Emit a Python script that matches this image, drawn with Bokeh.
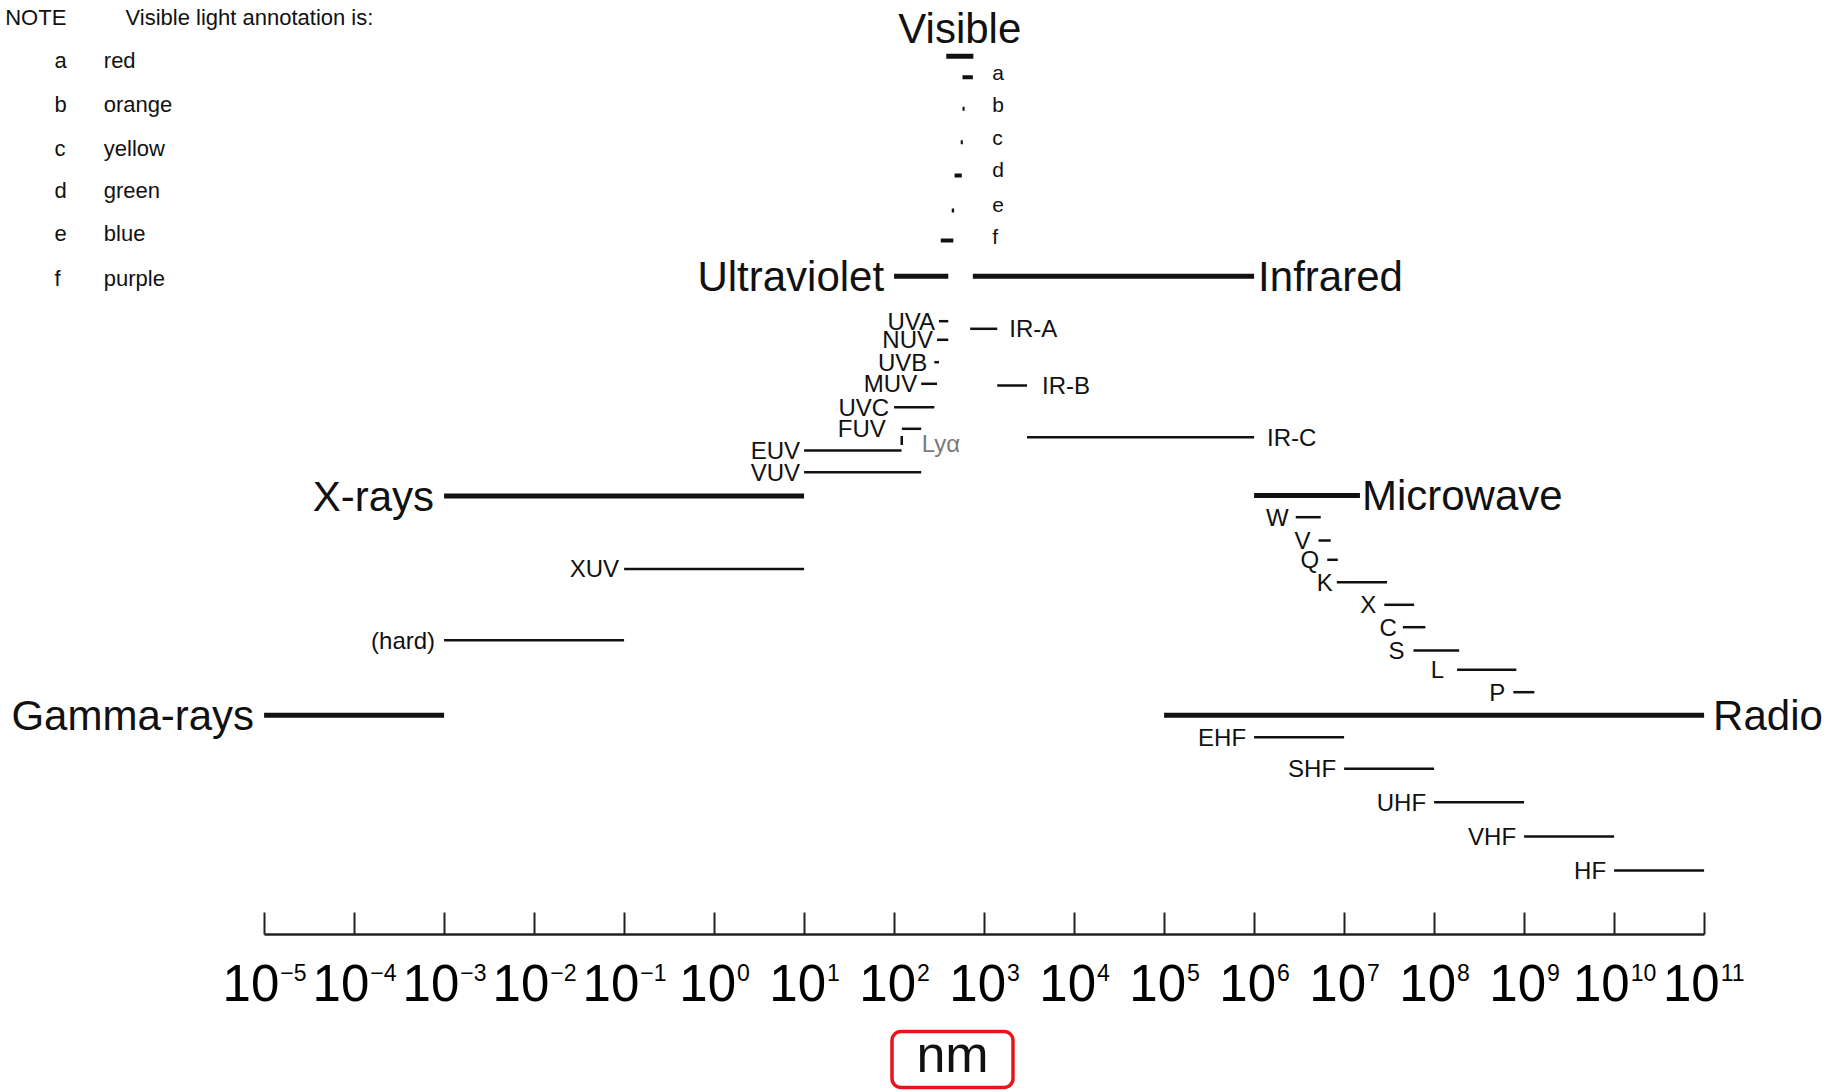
from bokeh.plotting import figure
from bokeh.layouts import column
from bokeh.models import Range1d, FixedTicker, ColumnDataSource, LinearScale, Rect
from bokeh.core.properties import value
from bokeh.embed import file_html
from bokeh.resources import INLINE

# ---------------- data (wavelengths in nm) ----------------
main_names = ["Gamma-rays", "X-rays", "Ultraviolet", "Visible", "Infrared", "Microwave", "Radio"]
main_lo = [1e-5, 1e-3, 100, 380, 750, 1e6, 1e5]
main_hi = [1e-3, 10, 400, 760, 1e6, 1.5e7, 1e11]

uv_names = ["UVA", "NUV", "UVB", "MUV", "UVC", "FUV", "EUV", "VUV"]
uv_lo = [315, 300, 280, 200, 100, 122, 10, 10]
uv_hi = [400, 400, 315, 300, 280, 200, 121, 200]

lya_name = "Lyα"
lya_nm = [121.6]

ir_names = ["IR-A", "IR-B", "IR-C"]
ir_lo = [700, 1400, 3000]
ir_hi = [1400, 3000, 1e6]

xray_names = ["XUV", "(hard)"]
xray_lo = [0.1, 0.001]
xray_hi = [10, 0.1]

mw_names = ["W", "V", "Q", "K", "X", "C", "S", "L", "P"]
mw_lo = [2.9e6, 5.2e6, 6.5e6, 8.3e6, 2.8e7, 4.5e7, 5.9e7, 1.8e8, 7.6e8]
mw_hi = [5.5e6, 7.1e6, 8.5e6, 3.0e7, 6.0e7, 8.0e7, 1.9e8, 8.2e8, 1.3e9]

radio_names = ["EHF", "SHF", "UHF", "VHF", "HF"]
radio_lo = [1e6, 1e7, 1e8, 1e9, 1e10]
radio_hi = [1e7, 1e8, 1e9, 1e10, 1e11]

vis_keys = ["a", "b", "c", "d", "e", "f"]
vis_colour_names = ["red", "orange", "yellow", "green", "blue", "purple"]
vis_lo = [575, 576, 550, 470, 437, 330]
vis_hi = [750, 607, 580, 565, 464, 455]

note_title = "NOTE"
note_text = "Visible light annotation is:"

tick_exp = list(range(-5, 12))
tick_vals = [float(f"1e{k}") for k in tick_exp]
tick_base = "10"
tick_exp_labels = ["−5", "−4", "−3", "−2", "−1", "0", "1", "2", "3",
                   "4", "5", "6", "7", "8", "9", "10", "11"]
unit_label = "nm"

# ---------------- layout (page pixel rows, label sides/gaps) ----------------
ROW = {
    "Visible": 55.7, "Ultraviolet": 275.7, "Infrared": 275.7, "X-rays": 495.6,
    "Microwave": 495.0, "Gamma-rays": 714.7, "Radio": 714.7,
    "UVA": 320.7, "NUV": 339.3, "UVB": 361.7, "MUV": 383.3, "UVC": 406.7,
    "FUV": 428.3, "EUV": 450.0, "VUV": 471.7,
    "IR-A": 328.3, "IR-B": 385.0, "IR-C": 436.7,
    "XUV": 568.4, "(hard)": 639.7,
    "W": 516.7, "V": 540.0, "Q": 559.3, "K": 581.7, "X": 604.3, "C": 626.7,
    "S": 650.0, "L": 669.3, "P": 691.7,
    "EHF": 736.7, "SHF": 768.3, "UHF": 801.7, "VHF": 836.0, "HF": 870.0,
}
VIS_TITLE_MID = 27.5
LYA_SPAN = (435.5, 444.5)
LYA_LABEL_Y = 443.0
MAIN_SIDE = {"Gamma-rays": "left", "X-rays": "left", "Ultraviolet": "left", "Visible": "top",
             "Infrared": "right", "Microwave": "right", "Radio": "right"}
MAIN_GAP = {"Gamma-rays": 10, "X-rays": 10, "Ultraviolet": 10, "Visible": 0,
            "Infrared": 4, "Microwave": 2, "Radio": 9}
SUB_GAP = {"UVA": 4, "NUV": 4, "UVB": 7, "MUV": 4, "UVC": 5, "FUV": 16, "EUV": 4, "VUV": 4,
           "IR-A": 12, "IR-B": 15, "IR-C": 13, "XUV": 5, "(hard)": 9,
           "W": 7, "V": 8, "Q": 8, "K": 4, "X": 8, "C": 6, "S": 9, "L": 13, "P": 8,
           "EHF": 8, "SHF": 8, "UHF": 8, "VHF": 8, "HF": 8}
BIG = "42px"
SUB = "24px"
VIS_ROW = [76.7, 108.3, 141.7, 175.0, 210.0, 240.0]
VIS_LABEL_ROW = [72.0, 103.5, 137.0, 168.5, 204.0, 236.0]
VIS_LABEL_X = 991.7
NOTE_X = (4.7, 125.0, 54.0, 103.3)
NOTE_TITLE_Y = 16.7
NOTE_ROWS = [59.5, 104, 148, 189.5, 233, 278]
NOTE_SIZE = "22px"

FONT = "Liberation Sans"
PAGE_W = 1830
AXIS_Y = 934              # page y of the axis line (frame bottom)
TOP_H = 940               # height of the main figure
BOT_H = 150               # height of the strip with tick labels and unit
DEC0, DEC_PX = 263.6, 90.0   # page x of 1e-5 and px per decade
TICK_BASE_SIZE, TICK_EXP_SIZE = 51, 23
TICK_BASE_MID, TICK_EXP_MID = 982.0, 971.5
UNIT_X, UNIT_MID = 952.0, 1053.0
UNIT_BOX = (952.0, 1059.0, 121.0, 56.0)   # centre x, centre y, width, height


def page_to_log(px):
    return (px - DEC0) / DEC_PX - 5


xr = Range1d(10 ** page_to_log(0), 10 ** page_to_log(PAGE_W))

p = figure(width=PAGE_W, height=TOP_H, x_axis_type="log", x_range=xr,
           y_range=Range1d(AXIS_Y, 0),
           output_backend="svg", toolbar_location=None,
           min_border_left=0, min_border_right=0, min_border_top=0,
           min_border_bottom=TOP_H - AXIS_Y,
           y_axis_location=None, outline_line_color=None,
           background_fill_color="white", border_fill_color="white")
p.extra_x_ranges = {"page": Range1d(0, PAGE_W)}
p.extra_x_scales = {"page": LinearScale()}
p.xgrid.visible = False
p.ygrid.visible = False

ax = p.xaxis[0]
ax.ticker = FixedTicker(ticks=tick_vals, minor_ticks=[])
ax.major_label_overrides = {v: "" for v in tick_vals}
ax.major_label_text_font_size = "1px"
ax.major_label_standoff = 0
ax.bounds = (tick_vals[0], tick_vals[-1])
ax.major_tick_in = 22
ax.major_tick_out = 0
ax.minor_tick_in = 0
ax.minor_tick_out = 0
ax.axis_line_width = 2.5
ax.axis_line_color = "#222222"
ax.major_tick_line_width = 2
ax.major_tick_line_color = "#222222"

INK = "#111111"

# ---- main bands ----
main_src = ColumnDataSource(dict(
    name=main_names, lo=main_lo, hi=main_hi,
    y=[ROW[n] for n in main_names]))
p.segment(x0="lo", y0="y", x1="hi", y1="y", source=main_src, line_width=5, line_color=INK)

for side, align in (("left", "right"), ("right", "left")):
    idx = [i for i, n in enumerate(main_names) if MAIN_SIDE[n] == side]
    src = ColumnDataSource(dict(
        x=[main_lo[i] if side == "left" else main_hi[i] for i in idx],
        y=[ROW[main_names[i]] for i in idx],
        t=[main_names[i] for i in idx],
        dx=[-MAIN_GAP[main_names[i]] if side == "left" else MAIN_GAP[main_names[i]] for i in idx]))
    p.text(x="x", y="y", text="t", x_offset="dx", source=src, text_align=align,
           text_baseline="middle", text_font=value(FONT), text_font_size=BIG, text_color=INK)

vi = main_names.index("Visible")
p.text(x=[(main_lo[vi] * main_hi[vi]) ** 0.5], y=[VIS_TITLE_MID], text=[main_names[vi]],
       text_align="center", text_baseline="middle",
       text_font=value(FONT), text_font_size=BIG, text_color=INK)


# ---- sub bands ----
def sub_group(names, lo, hi, side):
    src = ColumnDataSource(dict(
        lo=lo, hi=hi, y=[ROW[n] for n in names], t=names,
        x=lo if side == "left" else hi,
        dx=[-SUB_GAP[n] if side == "left" else SUB_GAP[n] for n in names]))
    p.segment(x0="lo", y0="y", x1="hi", y1="y", source=src, line_width=2.5, line_color=INK)
    p.text(x="x", y="y", text="t", x_offset="dx", source=src,
           text_align="right" if side == "left" else "left", text_baseline="middle",
           text_font=value(FONT), text_font_size=SUB, text_color=INK)


sub_group(uv_names, uv_lo, uv_hi, "left")
sub_group(ir_names, ir_lo, ir_hi, "right")
sub_group(xray_names, xray_lo, xray_hi, "left")
sub_group(mw_names, mw_lo, mw_hi, "left")
sub_group(radio_names, radio_lo, radio_hi, "left")

# Lyman alpha marker
p.segment(x0=lya_nm, y0=[LYA_SPAN[0]], x1=lya_nm, y1=[LYA_SPAN[1]],
          line_width=2.5, line_color=INK)
p.text(x=lya_nm, y=[LYA_LABEL_Y], text=[lya_name], x_offset=20, text_align="left",
       text_baseline="middle", text_font=value(FONT), text_font_size=SUB, text_color="#7a7a7a")

# ---- visible colour keys ----
vis_src = ColumnDataSource(dict(lo=vis_lo, hi=vis_hi, y=VIS_ROW, t=vis_keys,
                                ly=VIS_LABEL_ROW, lx=[VIS_LABEL_X] * len(vis_keys)))
p.segment(x0="lo", y0="y", x1="hi", y1="y", source=vis_src, line_width=4, line_color=INK)
p.text(x="lx", y="ly", text="t", source=vis_src, x_range_name="page", text_align="left",
       text_baseline="middle", text_font=value(FONT), text_font_size="21px", text_color=INK)

# ---- NOTE legend ----
p.text(x=[NOTE_X[0], NOTE_X[1]], y=[NOTE_TITLE_Y] * 2, text=[note_title, note_text],
       x_range_name="page", text_align="left", text_baseline="middle",
       text_font=value(FONT), text_font_size=NOTE_SIZE, text_color=INK)
note_src = ColumnDataSource(dict(k=vis_keys, n=vis_colour_names, y=NOTE_ROWS,
                                 kx=[NOTE_X[2]] * 6, nx=[NOTE_X[3]] * 6))
p.text(x="kx", y="y", text="k", source=note_src, x_range_name="page", text_align="left",
       text_baseline="middle", text_font=value(FONT), text_font_size=NOTE_SIZE, text_color=INK)
p.text(x="nx", y="y", text="n", source=note_src, x_range_name="page", text_align="left",
       text_baseline="middle", text_font=value(FONT), text_font_size=NOTE_SIZE, text_color=INK)

# ---- strip under the axis: tick labels (10 + raised exponent) and unit ----
q = figure(width=PAGE_W, height=BOT_H, x_axis_type="log", x_range=xr,
           y_range=Range1d(TOP_H + BOT_H, TOP_H),
           output_backend="svg", toolbar_location=None,
           min_border_left=0, min_border_right=0, min_border_top=0, min_border_bottom=0,
           x_axis_location=None, y_axis_location=None, outline_line_color=None,
           background_fill_color="white", border_fill_color="white")
q.extra_x_ranges = {"page": Range1d(0, PAGE_W)}
q.extra_x_scales = {"page": LinearScale()}
q.xgrid.visible = False
q.ygrid.visible = False

# approximate glyph advance widths (em) to centre "10" + exponent on each tick
ADV = {"−": 0.584, "1": 0.556}
base_w = 2 * 0.556 * TICK_BASE_SIZE
exp_w = [sum(ADV.get(ch, 0.556) for ch in s) * TICK_EXP_SIZE for s in tick_exp_labels]
join_dx = [(base_w - w) / 2 for w in exp_w]
tick_src = ColumnDataSource(dict(x=tick_vals, b=[tick_base] * len(tick_vals), e=tick_exp_labels,
                                 by=[TICK_BASE_MID] * len(tick_vals),
                                 ey=[TICK_EXP_MID] * len(tick_vals),
                                 dx=join_dx, edx=[d + 1 for d in join_dx]))
q.text(x="x", y="by", text="b", x_offset="dx", source=tick_src, text_align="right",
       text_baseline="middle", text_font=value(FONT),
       text_font_size=f"{TICK_BASE_SIZE}px", text_color="black")
q.text(x="x", y="ey", text="e", x_offset="edx", source=tick_src, text_align="left",
       text_baseline="middle", text_font=value(FONT),
       text_font_size=f"{TICK_EXP_SIZE}px", text_color="black")

# unit label inside a red rounded box
box_kw = dict(fill_color=None, line_color="#e8141a", line_width=3.5)
if "border_radius" in Rect.properties():
    box_kw["border_radius"] = 9
q.rect(x=[UNIT_BOX[0]], y=[UNIT_BOX[1]], width=[UNIT_BOX[2]], height=[UNIT_BOX[3]],
       width_units="screen", height_units="screen", x_range_name="page", **box_kw)
q.text(x=[UNIT_X], y=[UNIT_MID], text=[unit_label], x_range_name="page",
       text_align="center", text_baseline="middle", text_font=value(FONT),
       text_font_size="52px", text_color=INK)

open("out.html", "w").write(file_html(column(p, q, spacing=0), INLINE,
                                      title="Electromagnetic spectrum"))
